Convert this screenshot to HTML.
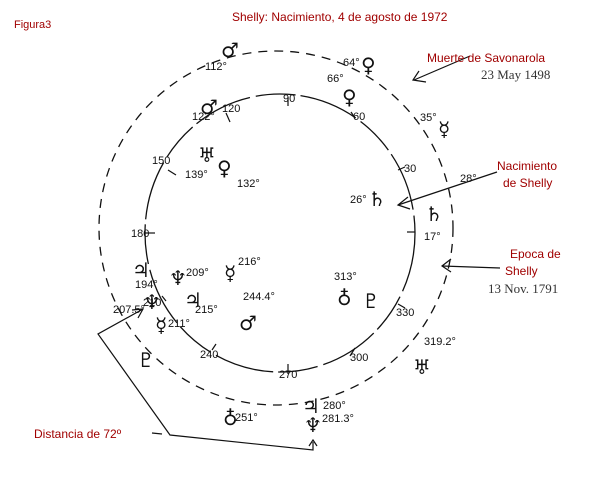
<!DOCTYPE html>
<html><head><meta charset="utf-8"><style>
body{margin:0;background:#fff}
svg{display:block}
.h{font-family:"Liberation Sans",sans-serif;font-size:11px;fill:#111}
.s{font-family:"DejaVu Sans",sans-serif;font-size:20px;fill:#111}
.r{font-family:"Liberation Sans",sans-serif;font-size:12px;fill:#a00000}
.b{font-family:"Liberation Serif",serif;font-size:13px;fill:#333}
</style></head><body>
<svg width="603" height="485" viewBox="0 0 603 485" xmlns="http://www.w3.org/2000/svg">
<text x="14" y="28" class="r" style="font-size:11px">Figura3</text>
<text x="232" y="21" class="r">Shelly: Nacimiento, 4 de agosto de 1972</text>
<circle cx="276" cy="228" r="177" fill="none" stroke="#111" stroke-width="1.3" stroke-dasharray="9 7"/>
<ellipse cx="280" cy="233" rx="135" ry="139" fill="none" stroke="#111" stroke-width="1.3" stroke-dasharray="60 6 40 5"/>
<g stroke="#111" stroke-width="1.2" fill="none">
<line x1="288" y1="97" x2="288" y2="106"/><line x1="355" y1="118" x2="351" y2="112"/>
<line x1="405" y1="167" x2="398" y2="170"/><line x1="415" y1="232" x2="407" y2="232"/>
<line x1="398" y1="304" x2="405" y2="308"/><line x1="355" y1="348" x2="350" y2="356"/>
<line x1="288" y1="364" x2="288" y2="374"/><line x1="212" y1="350" x2="216" y2="344"/>
<line x1="166" y1="301" x2="162" y2="296"/><line x1="145" y1="233" x2="155" y2="233"/>
<line x1="168" y1="170" x2="176" y2="175"/><line x1="226" y1="113" x2="230" y2="122"/>
<line x1="497" y1="172" x2="398" y2="205"/><polyline points="408,197 398,205 410,209"/>
<line x1="500" y1="268" x2="442" y2="266"/><polyline points="451,259 442,266 451,272"/>
<line x1="470" y1="56" x2="414" y2="80"/><polyline points="419,71 413,80 426,82"/>
<polyline points="143,309 98,334 170,435 313,450 313,442"/><polyline points="132,310 143,309 138,318"/>
<polyline points="309,446 313,440 317,446"/><line x1="152" y1="433" x2="162" y2="434"/>
</g>
<g class="h">
<text x="283" y="102">90</text><text x="353" y="120">60</text><text x="404" y="172">30</text>
<text x="424" y="240">17°</text><text x="396" y="316">330</text><text x="350" y="361">300</text>
<text x="279" y="378">270</text><text x="200" y="358">240</text><text x="143" y="306">210</text>
<text x="131" y="237">180</text><text x="152" y="164">150</text><text x="222" y="112">120</text>
<text x="205" y="70">112°</text><text x="343" y="66">64°</text><text x="327" y="82">66°</text>
<text x="192" y="120">122°</text><text x="185" y="178">139°</text><text x="237" y="187">132°</text>
<text x="350" y="203">26°</text><text x="420" y="121">35°</text><text x="460" y="182">28°</text>
<text x="186" y="276">209°</text><text x="238" y="265">216°</text><text x="135" y="288">194°</text>
<text x="113" y="313">207.5°</text><text x="195" y="313">215°</text><text x="168" y="327">211°</text>
<text x="243" y="300">244.4°</text><text x="334" y="280">313°</text><text x="424" y="345">319.2°</text>
<text x="235" y="421">251°</text><text x="323" y="409">280°</text><text x="322" y="422">281.3°</text>
</g>
<g class="s">
<text x="221" y="57">♂</text><text x="361" y="72">♀</text><text x="342" y="104">♀</text>
<text x="200" y="114">♂</text><text x="198" y="162">♅</text><text x="217" y="175">♀</text>
<text x="368" y="206">♄</text><text x="425" y="221">♄</text><text x="438" y="136">☿</text>
<text x="132" y="277">♃</text><text x="169" y="285">♆</text><text x="224" y="280">☿</text>
<text x="143" y="309">♆</text><text x="184" y="307">♃</text><text x="155" y="332">☿</text>
<text x="239" y="330">♂</text><text x="337" y="305">♁</text><text x="362" y="308">♇</text>
<text x="137" y="367">♇</text><text x="413" y="374">♅</text><text x="223" y="425">♁</text>
<text x="302" y="413">♃</text><text x="304" y="432">♆</text>
</g>
<text x="427" y="62" class="r">Muerte de Savonarola</text>
<text x="481" y="79" class="b">23 May 1498</text>
<text x="497" y="170" class="r">Nacimiento</text><text x="503" y="187" class="r">de Shelly</text>
<text x="510" y="258" class="r">Epoca de</text><text x="505" y="275" class="r">Shelly</text>
<text x="488" y="293" class="b">13 Nov. 1791</text>
<text x="34" y="438" class="r">Distancia de 72º</text>
</svg>
</body></html>
